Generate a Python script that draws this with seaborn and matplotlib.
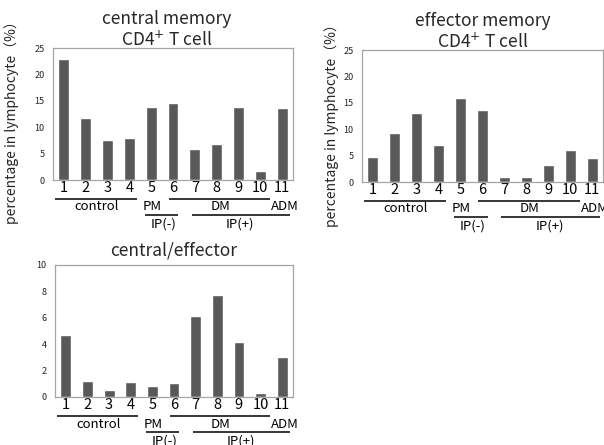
import matplotlib
matplotlib.use('Agg')
import matplotlib.pyplot as plt
import matplotlib.transforms as mtransforms
import numpy as np
import pandas as pd
import seaborn as sns

# patients 1..11
patients = ['1', '2', '3', '4', '5', '6', '7', '8', '9', '10', '11']
central_memory = [22.9, 11.7, 7.5, 8.0, 13.9, 14.6, 5.9, 6.8, 13.9, 1.7, 13.6]
effector_memory = [4.8, 9.3, 13.1, 7.0, 15.9, 13.6, 1.0, 0.95, 3.3, 6.1, 4.5]
central_effector = [4.7, 1.24, 0.56, 1.1, 0.8, 1.06, 6.16, 7.7, 4.17, 0.3, 3.0]

disease_labels = ['control', 'PM', 'DM', 'ADM']
ip_labels = ['IP(-)', 'IP(+)']

sns.set_style('white')
plt.rcParams['font.family'] = ['Noto Sans CJK JP', 'DejaVu Sans']

BAR = '#595959'
FRAME = '#a6a6a6'
INK = '#262626'

# group bracket layout (category units)
upper_lines = [(-0.4, 3.35), (4.8, 9.45)]
upper_text_x = [1.5, 4.03, 7.16, 10.14]
lower_lines = [(3.72, 5.23), (5.86, 10.37)]
lower_text_x = [4.55, 8.08]

fig = plt.figure(figsize=(6.04, 4.45), dpi=100)


def draw_panel(rect, values, title, ymax, ystep, ylabel=None, ylabel_xy=None,
               title_x=0.5, title_pad=2):
    ax = fig.add_axes(rect)
    df = pd.DataFrame({'patient': patients, 'value': values})
    sns.barplot(data=df, x='patient', y='value', color=BAR, saturation=1,
                width=0.5, ax=ax)
    ax.set_ylim(0, ymax)
    ax.set_xlim(-0.5, len(patients) - 0.5)
    ax.set_yticks(np.arange(0, ymax + 0.1, ystep))
    ax.tick_params(axis='y', length=0, labelsize=6.5, pad=6, labelcolor=INK)
    ax.tick_params(axis='x', length=0, labelsize=10.5, pad=0.5, labelcolor='black')
    for s in ax.spines.values():
        s.set_visible(True)
        s.set_color(FRAME)
        s.set_linewidth(0.9)
    ax.set_xlabel('')
    if ylabel:
        ax.set_ylabel(ylabel, fontsize=10)
        ax.yaxis.set_label_coords(*ylabel_xy)
    else:
        ax.set_ylabel('')
    ax.set_title(title, fontsize=12.5, pad=title_pad, x=title_x, linespacing=1.1)

    base = ax.get_xaxis_transform()
    for dy, spans in [(-19, upper_lines), (-35, lower_lines)]:
        tr = mtransforms.offset_copy(base, fig=fig, y=dy, units='dots')
        for x0, x1 in spans:
            ax.plot([x0, x1], [0, 0], color=INK, lw=1.3, transform=tr,
                    clip_on=False, solid_capstyle='butt')
    tr = mtransforms.offset_copy(base, fig=fig, y=-27, units='dots')
    for lab, x in zip(disease_labels, upper_text_x):
        ax.text(x, 0, lab, transform=tr, ha='center', va='center',
                fontsize=9.5, color='black', clip_on=False)
    tr = mtransforms.offset_copy(base, fig=fig, y=-44, units='dots')
    for lab, x in zip(ip_labels, lower_text_x):
        ax.text(x, 0, lab, transform=tr, ha='center', va='center',
                fontsize=9.5, color='black', clip_on=False)
    return ax


ylab = 'percentage in lymphocyte（%）'
draw_panel([53 / 604, 265 / 445, 240 / 604, 132 / 445], central_memory,
           'central memory\nCD4$^{+}$ T cell', 25, 5, ylab, (-0.14, 0.46),
           title_x=0.475)
draw_panel([362 / 604, 263 / 445, 241 / 604, 132 / 445], effector_memory,
           'effector memory\nCD4$^{+}$ T cell', 25, 5, ylab, (-0.095, 0.45))
draw_panel([55 / 604, 48 / 445, 238 / 604, 132 / 445], central_effector,
           'central/effector', 10, 2, title_pad=7)

fig.savefig('out.png', dpi=100)
